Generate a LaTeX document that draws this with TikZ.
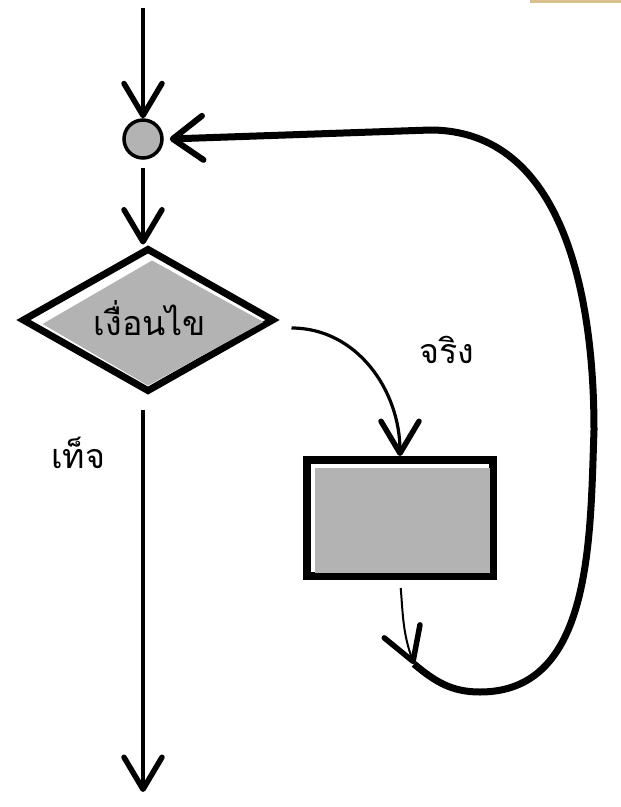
\documentclass[tikz,border=0pt]{standalone}
\usepackage{fontspec}
\newfontfamily\thaifont[Script=Thai]{Loma}
\usetikzlibrary{arrows.meta,shapes.geometric,calc}
\definecolor{boxgray}{HTML}{B3B3B3}
\definecolor{tan}{HTML}{D9C08C}
\tikzset{
  arrowtip/.style={-{Straight Barb[length=32pt,width=38pt,line width=5.5pt,round]}},
  conn/.style={arrowtip,line width=3.2pt,black},
  loopline/.style={-{Straight Barb[length=30pt,width=44pt,line width=6pt,round]},line width=7pt,black},
  thailabel/.style={font=\thaifont\fontsize{34}{40}\selectfont,inner sep=0pt},
}
\begin{document}
\begin{tikzpicture}[x=1pt,y=-1pt]
\useasboundingbox (0,0) rectangle (621,807);
\fill[tan] (530,0) rectangle (621,3);
% junction circle
\node[circle,draw,line width=3.5pt,fill=boxgray,minimum size=38pt,inner sep=0pt] (junc) at (143,139) {};
% condition diamond
\node[diamond,draw,fill=white,line width=7pt,minimum width=252pt,minimum height=144pt,inner sep=0pt] (cond) at (148,320) {};
\fill[boxgray] ($(cond.north)+(4,16)$) -- ($(cond.east)+(-14,2)$) -- ($(cond.south)+(0,-10)$) -- ($(cond.west)+(24,4)$) -- cycle;
\node[thailabel] (condtext) at ([xshift=2pt,yshift=2pt]cond.center) {เงื่อนไข};
% process box
\node[rectangle,draw,fill=white,line width=8pt,minimum width=186pt,minimum height=116pt,inner sep=0pt] (proc) at (400,518) {};
\fill[boxgray] ($(proc.north west)+(12,12)$) rectangle ($(proc.south east)+(-7,-7)$);
% labels
\node[thailabel] (truelabel) at (447,350) {จริง};
\node[thailabel] (falselabel) at (78,453) {เท็จ};
% coordinates
\coordinate (start) at (143,8);
\coordinate (finish) at (143,792);
\coordinate (merge) at (414,664);
\coordinate (l1) at (480,692);
\coordinate (l2) at (594,430);
\coordinate (l3) at (430,130);
% connectors
\draw[conn] (start) -- (junc.north);
\draw[conn,shorten <=8pt] (junc.south) -- (junc.south |- cond.north);
\draw[conn] ([xshift=14pt,yshift=-8pt]cond.east) to[out=0,in=90] (proc.north);
\draw[conn,shorten <=14pt] (cond.south -| finish) -- (finish);
\draw[conn,line width=2pt,shorten <=8pt] (proc.south) to[out=-85,in=110] (merge);
\draw[loopline] (merge) to[out=-40,in=180] (l1) to[out=0,in=-92] (l2) to[out=90,in=0] (l3) -- ([xshift=6pt]junc.east);
\end{tikzpicture}
\end{document}
